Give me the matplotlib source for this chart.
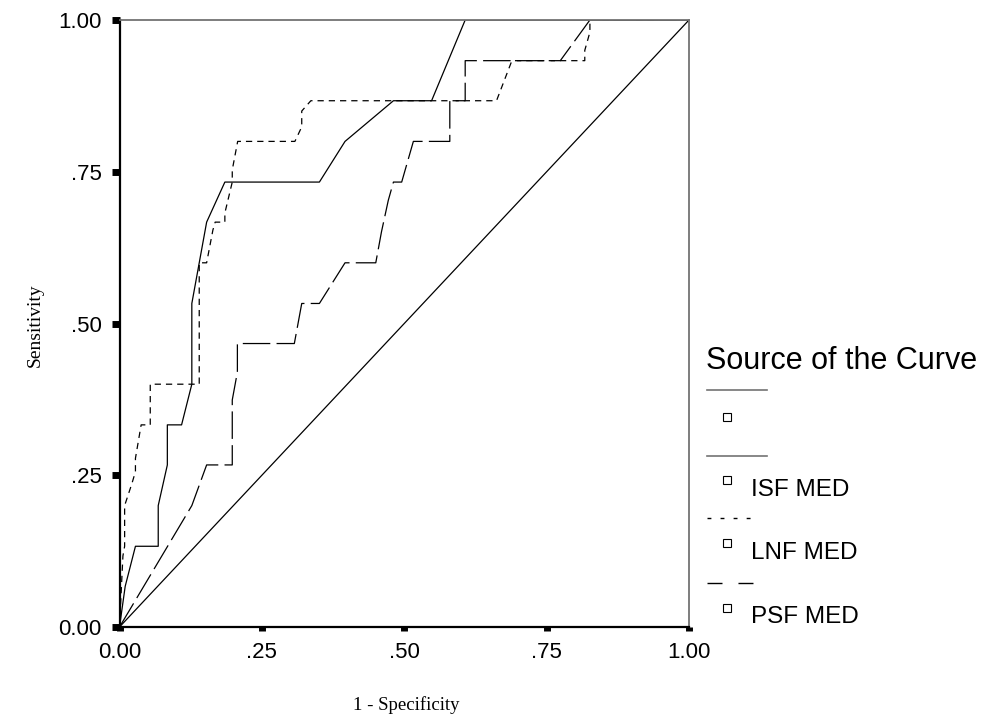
import matplotlib
matplotlib.use("Agg")
import matplotlib.pyplot as plt
from matplotlib.lines import Line2D

# ROC curves (1 - specificity, sensitivity)
isf_fpr = [0, 0.010, 0.028, 0.068, 0.068, 0.084, 0.084, 0.109, 0.127, 0.127,
           0.153, 0.185, 0.351, 0.396, 0.481, 0.548, 0.607, 1.0]
isf_tpr = [0, 0.067, 0.133, 0.133, 0.200, 0.267, 0.333, 0.333, 0.400, 0.533,
           0.667, 0.733, 0.733, 0.800, 0.867, 0.867, 1.0, 1.0]

lnf_fpr = [0, 0.006, 0.009, 0.009, 0.022, 0.028, 0.028, 0.038, 0.054, 0.054,
           0.140, 0.140, 0.153, 0.164, 0.168, 0.185, 0.185, 0.198, 0.198, 0.2075,
           0.308, 0.320, 0.320, 0.336, 0.662, 0.689, 0.817, 0.817, 0.826, 0.826, 1.0]
lnf_tpr = [0, 0.117, 0.133, 0.200, 0.237, 0.256, 0.278, 0.333, 0.333, 0.400,
           0.400, 0.600, 0.600, 0.654, 0.667, 0.667, 0.682, 0.733, 0.753, 0.800,
           0.800, 0.824, 0.850, 0.867, 0.867, 0.933, 0.933, 0.950, 0.980, 1.0, 1.0]

psf_fpr = [0, 0.127, 0.153, 0.198, 0.198, 0.207, 0.207, 0.307, 0.320, 0.351,
           0.396, 0.450, 0.460, 0.472, 0.481, 0.4955, 0.516, 0.580, 0.580, 0.607,
           0.607, 0.774, 0.826, 1.0]
psf_tpr = [0, 0.200, 0.267, 0.267, 0.374, 0.420, 0.467, 0.467, 0.533, 0.533,
           0.600, 0.600, 0.651, 0.703, 0.733, 0.733, 0.800, 0.800, 0.867, 0.867,
           0.933, 0.933, 1.0, 1.0]

ref_line = [0, 1]

ticks = [0, 0.25, 0.5, 0.75, 1.0]
tick_labels = ['0.00', '.25', '.50', '.75', '1.00']

legend_title = 'Source of the Curve'
legend_labels = ['', 'ISF MED', 'LNF MED', 'PSF MED']

W, H = 988, 716
sans = ['Liberation Sans', 'DejaVu Sans']
serif = ['Liberation Serif', 'DejaVu Serif']


def fx(px):
    return px / W


def fy(py):
    return 1 - py / H


fig = plt.figure(figsize=(W / 100, H / 100), dpi=100)
ax = fig.add_axes([fx(119.5), fy(627), fx(689) - fx(119.5), fy(20) - fy(627)])

lw = 0.9
ax.plot(ref_line, ref_line, color='black', lw=lw)
ax.plot(isf_fpr, isf_tpr, color='black', lw=lw)
ax.plot(lnf_fpr, lnf_tpr, color='black', lw=lw, dashes=(5, 4))
ax.plot(psf_fpr, psf_tpr, color='black', lw=lw, dashes=(22, 5))

ax.set_xlim(0, 1)
ax.set_ylim(0, 1)
ax.set_xticks(ticks)
ax.set_yticks(ticks)
ax.set_xticklabels(tick_labels, family=sans, fontsize=16)
ax.set_yticklabels(tick_labels, family=sans, fontsize=16)
ax.tick_params(axis='y', direction='out', length=6, width=5, pad=7)
ax.tick_params(axis='x', direction='out', length=3, width=5, pad=8)

for side in ['left', 'bottom']:
    ax.spines[side].set_color('black')
    ax.spines[side].set_linewidth(1.6)
for side in ['top', 'right']:
    ax.spines[side].set_color('0.45')
    ax.spines[side].set_linewidth(1.3)

fig.text(fx(35), fy(325), 'Sensitivity', rotation=90, ha='center', va='center',
         family=serif, fontsize=14)
fig.text(fx(406), fy(705), '1 - Specificity', ha='center', va='center',
         family=serif, fontsize=13.5)

# legend drawn by hand, SPSS style
fig.text(fx(706), fy(361), legend_title, ha='left', va='center', family=sans, fontsize=22)

line_rows = [390, 455.7, 518.3, 582.7]
line_ends = [767, 767, 751, 757]
square_rows = [416.7, 480, 543.3, 608.3]
label_rows = [489, 489, 552.5, 616.7]
styles = [dict(color='0.45', lw=1.2), dict(color='0.45', lw=1.2),
          dict(color='black', lw=1.0, dashes=(2.8, 6.6)),
          dict(color='black', lw=1.0, dashes=(10.8, 11.5))]

for i, lab in enumerate(legend_labels):
    fig.add_artist(Line2D([fx(707), fx(line_ends[i])], [fy(line_rows[i])] * 2,
                          transform=fig.transFigure, **styles[i]))
    fig.add_artist(Line2D([fx(727.3)], [fy(square_rows[i])], transform=fig.transFigure,
                          marker='s', markersize=5.5, markerfacecolor='white',
                          markeredgecolor='black', markeredgewidth=0.8, lw=0))
    if lab:
        fig.text(fx(751), fy(label_rows[i] + 0.5), lab, ha='left', va='center',
                 family=sans, fontsize=17.5)

fig.savefig('out.png', dpi=100)
